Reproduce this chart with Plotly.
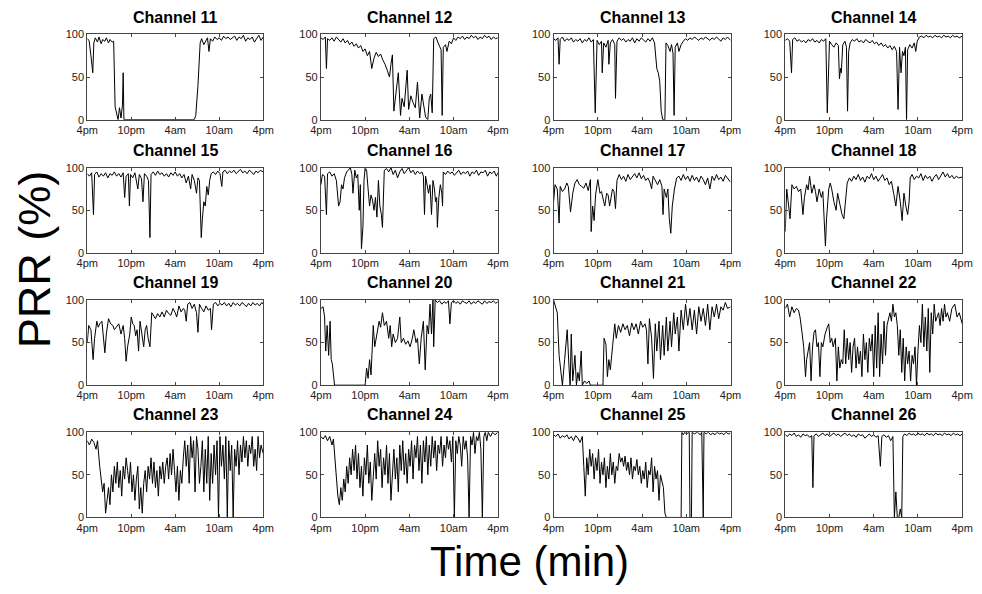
import plotly.graph_objects as go

# ---------------- data: (hour since 4pm, PRR %) ----------------
CH11 = [(0,95),(0.25,93),(0.5,75),(0.75,55),(0.9,90),(1.1,96),(1.4,91),(1.6,97),(1.9,89),(2.1,94),(2.4,92),(2.6,96),(2.9,90),(3.1,94),(3.4,91),(3.6,92),(3.8,15),(4.0,5),(4.2,0),(4.4,14),(4.6,2),(4.8,17),(4.9,55),(5.0,0),(14.6,0),(14.8,5),(15.1,40),(15.4,90),(15.6,95),(15.9,88),(16.2,93),(16.4,96),(16.6,80),(16.8,95),(17.1,92),(17.4,97),(17.7,94),(18.0,96),(18.3,93),(18.6,98),(18.9,95),(19.2,97),(19.5,94),(19.8,96),(20.1,98),(20.4,93),(20.7,97),(21.0,95),(21.3,99),(21.6,92),(21.9,96),(22.2,94),(22.5,97),(22.8,91),(23.1,95),(23.4,99),(23.7,93),(24,97)]
CH12 = [(0,96),(0.3,94),(0.6,97),(0.75,60),(0.9,95),(1.2,93),(1.5,96),(1.8,92),(2.1,97),(2.4,94),(2.7,91),(3.0,95),(3.3,90),(3.6,93),(3.9,88),(4.2,91),(4.5,86),(4.8,89),(5.1,84),(5.4,87),(5.7,80),(6.0,83),(6.3,75),(6.6,80),(6.9,60),(7.2,72),(7.5,79),(7.8,74),(8.1,77),(8.4,70),(8.7,65),(9.0,58),(9.3,50),(9.5,65),(9.7,76),(9.9,10),(10.2,30),(10.5,55),(10.8,5),(11.0,25),(11.3,15),(11.7,58),(11.9,12),(12.2,28),(12.5,20),(12.8,14),(13.1,44),(13.4,2),(13.7,30),(14.0,10),(14.2,3),(14.5,0),(14.7,25),(14.9,30),(15.1,8),(15.3,95),(15.6,97),(15.9,90),(16.1,85),(16.3,82),(16.45,5),(16.6,85),(16.9,88),(17.1,80),(17.4,92),(17.7,89),(18.0,96),(18.3,93),(18.6,97),(18.9,95),(19.2,98),(19.5,94),(19.8,97),(20.1,95),(20.4,99),(20.7,96),(21.0,98),(21.3,94),(21.6,97),(21.9,95),(22.2,99),(22.5,96),(22.8,98),(23.1,94),(23.4,97),(23.7,95),(24,96)]
CH13 = [(0,95),(0.3,93),(0.6,96),(0.75,65),(0.9,94),(1.2,97),(1.5,92),(1.8,95),(2.1,93),(2.4,96),(2.7,91),(3.0,94),(3.3,92),(3.6,95),(3.9,90),(4.2,94),(4.5,92),(4.8,96),(5.1,91),(5.4,94),(5.65,8),(5.75,50),(5.9,93),(6.2,88),(6.5,92),(6.6,55),(6.8,90),(7.1,85),(7.4,93),(7.5,65),(7.7,90),(8.0,94),(8.3,88),(8.4,25),(8.6,92),(8.9,96),(9.2,93),(9.5,95),(9.8,91),(10.1,94),(10.4,92),(10.7,96),(11.0,90),(11.3,95),(11.6,92),(11.9,96),(12.2,93),(12.5,91),(12.8,95),(13.1,92),(13.4,96),(13.7,90),(14.0,60),(14.2,55),(14.4,45),(14.6,10),(14.8,0),(15.1,0),(15.25,90),(15.5,87),(15.8,80),(16.0,88),(16.2,78),(16.35,5),(16.5,85),(16.8,90),(17.0,80),(17.3,88),(17.6,92),(17.9,95),(18.2,93),(18.5,96),(18.8,94),(19.1,97),(19.4,95),(19.7,93),(20.0,96),(20.3,94),(20.6,97),(20.9,95),(21.2,93),(21.5,96),(21.8,94),(22.1,97),(22.4,95),(22.7,92),(23.0,96),(23.3,94),(23.6,97),(24,93)]
CH14 = [(0,93),(0.3,95),(0.6,92),(0.85,55),(1.0,94),(1.3,96),(1.6,92),(1.9,94),(2.2,91),(2.5,93),(2.8,90),(3.1,94),(3.4,92),(3.7,95),(4.0,91),(4.3,93),(4.6,90),(4.9,94),(5.2,92),(5.5,95),(5.7,8),(5.8,50),(6.0,92),(6.3,88),(6.6,85),(6.9,90),(7.2,87),(7.35,48),(7.5,60),(7.6,55),(7.8,88),(8.1,92),(8.3,85),(8.45,10),(8.6,80),(8.8,90),(9.1,94),(9.4,92),(9.7,95),(10.0,91),(10.3,93),(10.6,90),(10.9,94),(11.2,92),(11.5,90),(11.8,93),(12.1,89),(12.4,91),(12.7,87),(13.0,90),(13.3,86),(13.6,88),(13.9,84),(14.2,87),(14.5,82),(14.8,86),(15.1,80),(15.3,12),(15.5,85),(15.7,55),(15.9,80),(16.1,75),(16.3,85),(16.45,0),(16.6,82),(16.9,88),(17.2,84),(17.5,90),(17.7,80),(17.9,92),(18.2,97),(18.5,98),(18.8,96),(19.1,99),(19.4,97),(19.7,98),(20.0,96),(20.3,99),(20.6,97),(20.9,98),(21.2,96),(21.5,99),(21.8,97),(22.1,98),(22.4,96),(22.7,99),(23.0,97),(23.3,98),(23.6,96),(24,98)]
CH15 = [(0,93),(0.3,90),(0.6,94),(0.85,45),(1.0,92),(1.3,95),(1.6,89),(1.9,93),(2.2,90),(2.5,94),(2.8,88),(3.1,93),(3.4,91),(3.7,95),(4.0,90),(4.3,93),(4.6,89),(4.9,94),(5.1,65),(5.3,90),(5.6,93),(5.75,55),(5.9,92),(6.2,88),(6.5,94),(6.8,82),(6.9,75),(7.1,92),(7.4,87),(7.6,60),(7.8,93),(8.1,90),(8.35,85),(8.55,18),(8.7,92),(9.0,95),(9.3,91),(9.6,96),(9.9,92),(10.2,94),(10.5,90),(10.8,93),(11.1,89),(11.4,94),(11.7,91),(12.0,95),(12.3,90),(12.6,93),(12.9,88),(13.2,92),(13.5,82),(13.8,90),(14.1,75),(14.3,92),(14.6,85),(14.9,70),(15.1,88),(15.3,85),(15.55,18),(15.7,40),(15.9,60),(16.1,55),(16.3,78),(16.5,68),(16.7,85),(16.9,93),(17.2,95),(17.5,92),(17.8,96),(18.1,93),(18.35,78),(18.5,95),(18.8,97),(19.1,93),(19.4,96),(19.7,94),(20.0,97),(20.3,93),(20.6,95),(20.9,98),(21.2,94),(21.5,96),(21.8,93),(22.1,97),(22.4,95),(22.7,92),(23.0,96),(23.3,94),(23.6,97),(24,95)]
CH16 = [(0,80),(0.2,92),(0.5,90),(0.75,45),(0.9,93),(1.2,95),(1.5,90),(1.8,93),(2.1,85),(2.4,55),(2.6,60),(2.8,80),(3.0,75),(3.2,88),(3.5,95),(3.8,98),(4.0,100),(4.2,92),(4.35,70),(4.6,97),(4.8,88),(5.0,92),(5.2,50),(5.35,80),(5.5,5),(5.7,30),(5.85,85),(6.0,100),(6.2,97),(6.4,75),(6.6,55),(6.8,68),(7.0,62),(7.2,50),(7.4,65),(7.6,42),(7.8,85),(8.0,55),(8.2,45),(8.35,30),(8.5,65),(8.6,97),(8.9,99),(9.2,95),(9.5,100),(9.8,92),(10.1,97),(10.4,88),(10.7,95),(11.0,99),(11.3,93),(11.6,97),(11.9,100),(12.2,94),(12.5,97),(12.8,92),(13.1,96),(13.4,93),(13.7,95),(13.9,90),(14.05,45),(14.2,90),(14.4,80),(14.6,70),(14.8,80),(15.0,45),(15.2,85),(15.4,75),(15.55,60),(15.7,65),(15.8,30),(16.0,65),(16.2,80),(16.4,70),(16.5,55),(16.6,95),(16.9,92),(17.2,96),(17.5,93),(17.8,95),(18.1,91),(18.4,94),(18.7,97),(19.0,92),(19.3,95),(19.6,93),(19.9,96),(20.2,90),(20.5,95),(20.8,93),(21.1,97),(21.4,91),(21.7,95),(22.0,94),(22.3,97),(22.6,90),(22.9,95),(23.2,93),(23.5,96),(23.8,90),(24,94)]
CH17 = [(0,60),(0.2,80),(0.5,75),(0.75,35),(0.9,78),(1.2,72),(1.5,75),(1.8,82),(2.0,78),(2.3,48),(2.6,70),(2.9,82),(3.2,86),(3.5,80),(3.8,78),(4.1,76),(4.4,82),(4.7,73),(5.0,86),(5.1,25),(5.3,55),(5.5,38),(5.7,68),(6.0,86),(6.3,70),(6.5,72),(6.8,60),(6.95,55),(7.2,70),(7.4,68),(7.6,55),(7.8,68),(8.0,75),(8.2,72),(8.4,52),(8.6,85),(8.9,92),(9.2,86),(9.5,90),(9.8,84),(10.1,92),(10.4,86),(10.7,90),(11.0,93),(11.3,88),(11.6,94),(11.9,87),(12.2,91),(12.5,85),(12.8,88),(13.1,82),(13.3,75),(13.5,90),(13.8,84),(14.1,80),(14.4,86),(14.7,78),(14.85,45),(15.0,75),(15.3,65),(15.5,75),(15.7,40),(15.9,23),(16.1,55),(16.4,75),(16.7,88),(17.0,90),(17.3,85),(17.6,92),(17.9,86),(18.2,90),(18.5,84),(18.8,91),(19.1,85),(19.4,89),(19.7,83),(20.0,90),(20.3,86),(20.6,80),(20.9,88),(21.2,75),(21.5,90),(21.8,85),(22.1,92),(22.4,86),(22.7,89),(23.0,84),(23.3,91),(23.6,87),(24,83)]
CH18 = [(0,25),(0.2,75),(0.4,60),(0.65,40),(0.9,80),(1.2,75),(1.5,78),(1.8,72),(2.1,75),(2.4,45),(2.6,65),(2.9,80),(3.1,74),(3.3,90),(3.6,70),(3.9,80),(4.1,72),(4.3,60),(4.6,75),(4.9,65),(5.1,72),(5.3,25),(5.45,8),(5.6,40),(5.9,75),(6.1,82),(6.3,75),(6.6,60),(6.9,50),(7.1,70),(7.3,62),(7.5,55),(7.7,45),(7.95,40),(8.2,60),(8.4,82),(8.7,88),(9.0,84),(9.3,90),(9.6,86),(9.9,92),(10.2,85),(10.5,89),(10.8,83),(11.1,90),(11.4,87),(11.7,93),(12.0,86),(12.3,90),(12.6,84),(12.9,88),(13.2,92),(13.5,85),(13.8,88),(14.1,80),(14.4,84),(14.7,70),(15.0,55),(15.3,78),(15.6,60),(15.85,38),(16.1,70),(16.35,55),(16.6,45),(16.8,60),(16.95,88),(17.2,92),(17.5,86),(17.8,90),(18.1,88),(18.4,93),(18.7,85),(19.0,91),(19.3,87),(19.6,90),(19.9,84),(20.2,89),(20.5,92),(20.8,86),(21.1,90),(21.4,95),(21.7,89),(22.0,93),(22.3,88),(22.6,91),(22.9,87),(23.2,90),(23.5,88),(24,89)]
CH19 = [(0,50),(0.2,70),(0.5,65),(0.8,30),(1.0,55),(1.3,75),(1.5,68),(1.7,72),(2.0,75),(2.2,60),(2.4,38),(2.6,60),(2.9,78),(3.2,72),(3.5,70),(3.7,65),(4.0,68),(4.3,72),(4.6,60),(4.9,70),(5.1,55),(5.3,28),(5.5,45),(5.8,60),(6.0,80),(6.2,72),(6.4,70),(6.6,58),(6.8,65),(7.0,40),(7.2,75),(7.4,60),(7.7,45),(7.9,65),(8.1,70),(8.3,55),(8.55,45),(8.8,85),(9.0,82),(9.3,78),(9.6,84),(9.9,80),(10.2,86),(10.5,80),(10.8,88),(11.1,84),(11.4,82),(11.7,90),(12.0,85),(12.2,80),(12.5,93),(12.8,86),(13.1,90),(13.3,88),(13.5,75),(13.7,95),(14.0,97),(14.3,90),(14.6,95),(14.9,85),(15.1,62),(15.3,95),(15.6,90),(15.9,86),(16.2,93),(16.5,88),(16.8,90),(16.95,65),(17.2,95),(17.5,97),(17.8,93),(18.1,96),(18.4,94),(18.7,97),(19.0,93),(19.3,96),(19.6,92),(19.9,97),(20.2,94),(20.5,96),(20.8,93),(21.1,97),(21.4,95),(21.7,92),(22.0,96),(22.3,93),(22.6,97),(22.9,94),(23.2,96),(23.5,93),(23.8,97),(24,95)]
CH20 = [(0,90),(0.3,92),(0.5,80),(0.65,40),(0.85,70),(1.05,35),(1.25,75),(1.4,30),(1.55,25),(1.7,15),(1.85,0),(6.0,0),(6.2,20),(6.4,8),(6.6,30),(6.8,12),(7.0,45),(7.1,70),(7.3,45),(7.6,60),(7.9,75),(8.1,68),(8.35,85),(8.6,70),(8.9,75),(9.2,55),(9.4,70),(9.6,45),(9.8,60),(10.1,50),(10.4,55),(10.7,80),(10.9,50),(11.2,55),(11.5,48),(11.8,52),(12.1,45),(12.4,55),(12.6,65),(12.9,50),(13.1,55),(13.35,25),(13.6,55),(13.9,75),(14.15,18),(14.4,70),(14.6,60),(14.8,95),(15.0,60),(15.2,100),(15.3,45),(15.5,100),(15.8,97),(16.1,99),(16.4,95),(16.7,98),(17.0,96),(17.3,99),(17.5,72),(17.7,97),(18.0,99),(18.3,96),(18.6,98),(18.9,95),(19.2,99),(19.5,97),(19.8,96),(20.1,99),(20.4,95),(20.7,98),(21.0,96),(21.3,99),(21.6,97),(21.9,95),(22.2,99),(22.5,96),(22.8,98),(23.1,97),(23.4,99),(23.7,96),(24,98)]
CH21 = [(0,100),(0.3,90),(0.5,85),(0.75,35),(1.0,15),(1.2,0),(1.5,30),(1.85,65),(2.1,20),(2.25,0),(2.4,60),(2.6,5),(2.9,35),(3.1,0),(3.3,15),(3.5,5),(3.75,40),(3.9,0),(4.2,5),(4.5,2),(4.8,5),(5.0,0),(6.7,0),(6.85,55),(7.1,48),(7.3,10),(7.5,30),(7.7,18),(8.0,45),(8.3,72),(8.5,55),(8.8,70),(9.1,62),(9.4,72),(9.7,65),(10.0,70),(10.3,58),(10.6,73),(10.9,65),(11.2,72),(11.5,60),(11.8,75),(12.1,68),(12.4,72),(12.6,65),(12.8,25),(13.0,78),(13.3,55),(13.55,8),(13.8,72),(14.0,40),(14.3,75),(14.5,30),(14.8,70),(15.0,35),(15.3,80),(15.5,40),(15.8,75),(16.0,45),(16.3,85),(16.5,60),(16.8,80),(17.0,40),(17.3,88),(17.6,65),(17.9,95),(18.2,70),(18.5,90),(18.8,65),(19.1,88),(19.4,60),(19.7,92),(20.0,75),(20.3,90),(20.6,70),(20.9,95),(21.2,65),(21.5,92),(21.8,80),(22.1,95),(22.4,78),(22.7,92),(23.0,88),(23.3,97),(23.6,90),(24,92)]
CH22 = [(0,90),(0.3,95),(0.6,80),(0.9,92),(1.2,85),(1.5,90),(1.8,88),(2.0,80),(2.3,60),(2.5,45),(2.75,10),(2.9,30),(3.1,40),(3.3,50),(3.5,5),(3.7,45),(3.9,62),(4.1,65),(4.3,45),(4.5,50),(4.7,10),(4.9,50),(5.1,45),(5.4,60),(5.7,68),(5.9,72),(6.1,50),(6.3,55),(6.5,45),(6.8,55),(7.0,5),(7.2,45),(7.4,20),(7.6,30),(7.8,25),(8.0,65),(8.2,25),(8.4,55),(8.6,30),(8.8,50),(9.0,15),(9.2,45),(9.4,55),(9.6,20),(9.8,45),(10.0,25),(10.2,40),(10.4,10),(10.6,60),(10.8,30),(11.0,50),(11.2,15),(11.4,55),(11.6,40),(11.8,60),(12.0,10),(12.2,70),(12.4,20),(12.6,85),(12.8,10),(13.0,60),(13.2,25),(13.4,75),(13.6,35),(13.8,70),(14.0,80),(14.2,85),(14.4,75),(14.6,95),(14.8,80),(15.0,85),(15.2,70),(15.4,35),(15.6,65),(15.8,15),(16.0,55),(16.2,5),(16.4,45),(16.6,25),(16.8,40),(17.0,5),(17.2,35),(17.4,25),(17.6,45),(17.8,0),(18.0,40),(18.2,70),(18.4,50),(18.6,95),(18.8,45),(19.0,80),(19.2,40),(19.4,90),(19.6,15),(19.8,85),(20.0,60),(20.2,95),(20.4,75),(20.6,80),(20.8,85),(21.0,70),(21.2,90),(21.4,75),(21.6,95),(21.8,80),(22.0,85),(22.3,75),(22.6,90),(23.0,95),(23.3,80),(23.6,85),(24,72)]
CH23 = [(0,90),(0.3,85),(0.6,92),(0.9,88),(1.2,80),(1.4,90),(1.7,60),(1.9,45),(2.1,30),(2.3,40),(2.5,5),(2.7,20),(2.9,35),(3.1,15),(3.3,50),(3.5,30),(3.7,60),(3.9,40),(4.1,65),(4.3,35),(4.5,55),(4.7,25),(4.9,60),(5.1,45),(5.3,70),(5.5,55),(5.7,40),(5.9,65),(6.1,30),(6.3,50),(6.5,20),(6.7,45),(6.9,60),(7.1,10),(7.3,35),(7.5,5),(7.7,40),(7.9,55),(8.1,30),(8.3,60),(8.5,45),(8.7,70),(8.9,40),(9.1,65),(9.3,35),(9.5,55),(9.7,25),(9.9,60),(10.1,45),(10.3,65),(10.5,40),(10.7,60),(10.9,70),(11.1,45),(11.3,75),(11.5,50),(11.7,80),(11.9,55),(12.1,30),(12.3,60),(12.5,20),(12.7,55),(12.9,40),(13.1,70),(13.3,90),(13.5,60),(13.7,85),(13.9,40),(14.1,95),(14.3,70),(14.5,90),(14.7,30),(14.9,95),(15.1,80),(15.3,40),(15.5,60),(15.7,90),(15.9,30),(16.1,80),(16.3,40),(16.5,95),(16.7,20),(16.9,75),(17.1,40),(17.3,85),(17.5,50),(17.7,90),(17.9,0),(18.1,95),(18.3,60),(18.5,85),(18.7,45),(18.9,95),(19.1,0),(19.3,90),(19.5,55),(19.7,85),(19.9,0),(20.1,80),(20.3,60),(20.5,90),(20.7,50),(20.9,85),(21.1,65),(21.3,95),(21.5,70),(21.7,90),(21.9,60),(22.1,85),(22.3,75),(22.5,95),(22.7,60),(22.9,80),(23.1,55),(23.3,95),(23.5,70),(23.7,85),(24,75)]
CH24 = [(0,95),(0.3,92),(0.6,96),(0.9,90),(1.2,95),(1.5,85),(1.7,92),(1.9,70),(2.1,40),(2.3,25),(2.5,15),(2.7,35),(2.9,20),(3.1,45),(3.3,30),(3.5,60),(3.7,40),(3.9,70),(4.1,50),(4.3,80),(4.5,55),(4.7,85),(4.9,45),(5.1,75),(5.3,35),(5.5,60),(5.7,25),(5.9,70),(6.1,50),(6.3,85),(6.5,40),(6.7,65),(6.9,20),(7.1,55),(7.3,75),(7.5,45),(7.7,90),(7.9,60),(8.1,80),(8.3,35),(8.5,70),(8.7,50),(8.9,85),(9.1,40),(9.3,75),(9.5,20),(9.7,60),(9.9,80),(10.1,45),(10.3,70),(10.5,30),(10.7,85),(10.9,55),(11.1,90),(11.3,50),(11.5,75),(11.7,40),(11.9,80),(12.1,60),(12.3,90),(12.5,45),(12.7,85),(12.9,70),(13.1,95),(13.3,55),(13.5,85),(13.7,40),(13.9,90),(14.1,65),(14.3,95),(14.5,50),(14.7,85),(14.9,60),(15.1,95),(15.3,70),(15.5,90),(15.7,55),(15.9,85),(16.1,75),(16.3,95),(16.5,60),(16.7,85),(16.9,70),(17.1,95),(17.3,80),(17.5,90),(17.7,65),(17.9,95),(18.1,0),(18.3,90),(18.5,75),(18.7,95),(18.9,85),(19.1,60),(19.3,95),(19.5,80),(19.7,90),(19.9,70),(20.1,0),(20.3,95),(20.5,85),(20.7,100),(20.9,75),(21.1,95),(21.3,90),(21.5,100),(21.7,80),(21.9,0),(22.1,95),(22.3,100),(22.5,90),(22.7,100),(23.0,95),(23.3,100),(23.6,97),(24,100)]
CH25 = [(0,97),(0.3,95),(0.6,98),(0.9,93),(1.2,96),(1.5,94),(1.8,97),(2.1,92),(2.4,95),(2.7,90),(3.0,96),(3.3,93),(3.6,88),(3.9,95),(4.1,60),(4.3,25),(4.5,70),(4.7,50),(4.9,80),(5.1,60),(5.3,75),(5.5,45),(5.7,70),(5.9,55),(6.1,80),(6.3,40),(6.5,65),(6.7,50),(6.9,70),(7.1,35),(7.3,60),(7.5,45),(7.7,75),(7.9,50),(8.1,65),(8.3,40),(8.5,60),(8.7,55),(8.9,75),(9.1,65),(9.3,70),(9.5,60),(9.7,72),(9.9,55),(10.1,65),(10.3,50),(10.5,70),(10.7,45),(10.9,60),(11.1,55),(11.3,68),(11.5,50),(11.7,60),(11.9,40),(12.1,55),(12.3,45),(12.5,65),(12.7,35),(12.9,55),(13.1,50),(13.3,70),(13.5,30),(13.7,60),(13.9,45),(14.1,55),(14.3,20),(14.5,50),(14.7,40),(14.9,35),(15.1,5),(15.3,0),(17.3,0),(17.4,100),(17.6,97),(17.8,100),(18.0,98),(18.4,100),(18.5,0),(18.7,0),(18.8,100),(19.1,98),(19.5,100),(19.9,97),(20.1,100),(20.2,0),(20.3,0),(20.4,100),(20.7,98),(21.0,100),(21.3,97),(21.6,99),(21.9,97),(22.2,100),(22.5,98),(22.8,99),(23.1,97),(23.4,100),(23.7,98),(24,99)]
CH26 = [(0,97),(0.3,95),(0.6,98),(0.9,96),(1.2,99),(1.5,95),(1.8,97),(2.1,94),(2.4,98),(2.7,96),(3.0,97),(3.3,94),(3.6,96),(3.75,35),(3.9,96),(4.2,98),(4.5,95),(4.8,97),(5.1,99),(5.4,96),(5.7,98),(6.0,95),(6.3,97),(6.6,99),(6.9,96),(7.2,98),(7.5,95),(7.8,97),(8.1,99),(8.4,96),(8.7,98),(9.0,95),(9.3,97),(9.6,94),(9.9,98),(10.2,96),(10.5,97),(10.8,93),(11.1,96),(11.4,98),(11.7,95),(12.0,97),(12.3,94),(12.6,96),(12.9,60),(13.1,95),(13.4,97),(13.7,94),(14.0,96),(14.3,90),(14.6,95),(14.8,0),(15.0,30),(15.2,0),(15.4,0),(15.6,10),(15.8,0),(15.95,95),(16.2,98),(16.5,96),(16.8,99),(17.1,97),(17.4,98),(17.7,96),(18.0,99),(18.3,97),(18.6,98),(18.9,96),(19.2,99),(19.5,97),(19.8,98),(20.1,96),(20.4,99),(20.7,97),(21.0,98),(21.3,96),(21.6,99),(21.9,97),(22.2,98),(22.5,96),(22.8,99),(23.1,97),(23.4,98),(23.7,96),(24,98)]

CHANNELS = [11, 12, 13, 14, 15, 16, 17, 18, 19, 20, 21, 22, 23, 24, 25, 26]
SERIES = [CH11, CH12, CH13, CH14, CH15, CH16, CH17, CH18,
          CH19, CH20, CH21, CH22, CH23, CH24, CH25, CH26]
X_TICKS = [0, 6, 12, 18, 24]
X_TICK_LABELS = ["4pm", "10pm", "4am", "10am", "4pm"]
Y_TICKS = [0, 50, 100]

# ---------------- layout geometry (pixels) ----------------
W, H = 982, 594
COLS = [(78, 258), (317, 498), (555, 736), (792, 973)]
ROWS = [(29, 116), (165, 252), (300, 387), (435, 522)]

FONT = "Liberation Sans, Arial, sans-serif"
fig = go.Figure()
layout = {}
annotations = []

for k, (ch, pts) in enumerate(zip(CHANNELS, SERIES)):
    r, c = divmod(k, 4)
    idx = "" if k == 0 else str(k + 1)
    xs = [p[0] for p in pts]
    ys = [p[1] for p in pts]
    fig.add_trace(go.Scatter(
        x=xs, y=ys, mode="lines",
        line=dict(color="black", width=1),
        xaxis="x" + idx, yaxis="y" + idx,
        showlegend=False, hoverinfo="skip",
    ))
    x0, x1 = COLS[c]
    y0, y1 = ROWS[r]
    common = dict(showgrid=False, zeroline=False, showline=True, mirror="ticks",
                  linecolor="#444", linewidth=1, ticks="inside", ticklen=3,
                  tickcolor="#444", tickfont=dict(family=FONT, size=11, color="#222"))
    layout["xaxis" + idx] = dict(domain=[x0 / W, x1 / W], anchor="y" + idx,
                                 range=[0, 24], tickvals=X_TICKS,
                                 ticktext=X_TICK_LABELS, ticklabelstandoff=0, **common)
    layout["yaxis" + idx] = dict(domain=[1 - y1 / H, 1 - y0 / H], anchor="x" + idx,
                                 range=[0, 100], tickvals=Y_TICKS, **common)
    annotations.append(dict(
        text="<b>Channel %d</b>" % ch, xref="paper", yref="paper",
        x=(x0 + x1) / 2 / W, y=1 - (y0 - 7) / H, xanchor="center", yanchor="bottom",
        showarrow=False, font=dict(family=FONT, size=16, color="black"),
    ))

annotations.append(dict(text="PRR (%)", xref="paper", yref="paper",
                        x=24 / W, y=1 - 258 / H, xanchor="center", yanchor="middle",
                        textangle=-90, showarrow=False,
                        font=dict(family=FONT, size=45, color="black")))
annotations.append(dict(text="Time (min)", xref="paper", yref="paper",
                        x=530 / W, y=1 - 567 / H, xanchor="center", yanchor="middle",
                        showarrow=False,
                        font=dict(family=FONT, size=42, color="black")))

fig.update_layout(width=W, height=H, margin=dict(l=0, r=0, t=0, b=0),
                  paper_bgcolor="white", plot_bgcolor="white",
                  annotations=annotations, **layout)
fig.write_html("out.html")
